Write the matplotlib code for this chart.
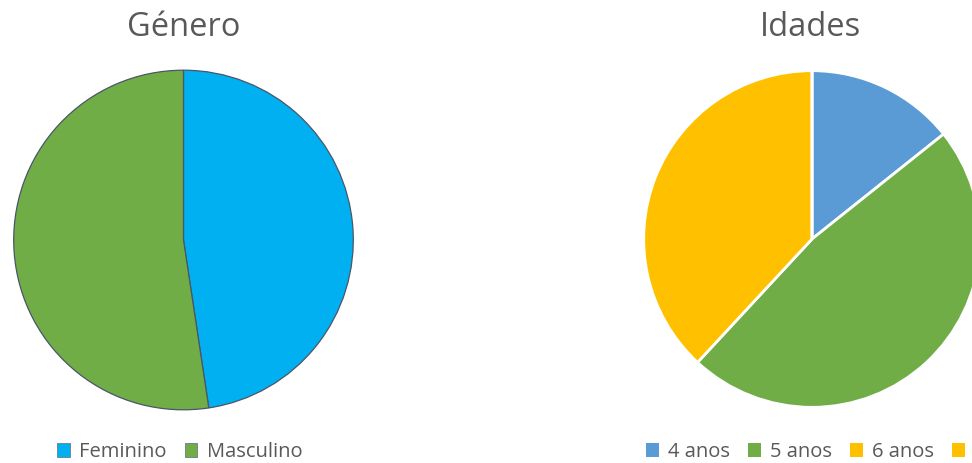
import matplotlib.pyplot as plt
from matplotlib.patches import Patch

# Data
genero_labels = ["Feminino", "Masculino"]
genero_values = [10, 11]
genero_colors = ["#00B0F0", "#70AD47"]

idade_labels = ["4 anos", "5 anos", "6 anos", "7 anos"]
idade_values = [3, 10, 8, 0]
idade_colors = ["#5B9BD5", "#70AD47", "#FFC000", "#FFC000"]

text_color = "#595959"
plt.rcParams["font.family"] = ["Open Sans", "DejaVu Sans"]

W, H = 972, 463
fig = plt.figure(figsize=(W / 100, H / 100), dpi=100)


def px_axes(cx, cy, r):
    # axes box in figure fractions from pixel centre/radius
    return fig.add_axes([(cx - r) / W, 1 - (cy + r) / H, 2 * r / W, 2 * r / H])


# Left pie: Género
ax1 = px_axes(183.5, 240, 171.5)
ax1.pie(genero_values, colors=genero_colors, startangle=90, counterclock=False,
        wedgeprops=dict(edgecolor="#4A5668", linewidth=0.9))
ax1.set_xlim(-1.01, 1.01)
ax1.set_ylim(-1.01, 1.01)
ax1.set_aspect("equal")
ax1.axis("off")

# Right pie: Idades
ax2 = px_axes(812, 239, 170)
ax2.pie(idade_values, colors=idade_colors, startangle=90, counterclock=False,
        wedgeprops=dict(edgecolor="white", linewidth=2))
ax2.set_xlim(-1.01, 1.01)
ax2.set_ylim(-1.01, 1.01)
ax2.set_aspect("equal")
ax2.axis("off")

# Titles
fig.text(183.5 / W, 1 - 28 / H, "Género", ha="center", va="center",
         fontsize=23.5, color=text_color)
fig.text(810 / W, 1 - 28 / H, "Idades", ha="center", va="center",
         fontsize=23.5, color=text_color)

# Legends
leg_kw = dict(loc="center left", frameon=False, borderpad=0, borderaxespad=0,
              handlelength=0.64, handleheight=0.64, handletextpad=0.45,
              columnspacing=0.9, fontsize=14.5, labelcolor=text_color)

h1 = [Patch(facecolor=c, edgecolor="#6E7A88", linewidth=0.6) for c in genero_colors]
fig.legend(h1, genero_labels, ncol=2, bbox_to_anchor=(57 / W, 1 - 452 / H), **leg_kw)

h2 = [Patch(facecolor=c, edgecolor="none") for c in idade_colors]
fig.legend(h2, idade_labels, ncol=4, bbox_to_anchor=(646 / W, 1 - 452 / H), **leg_kw)

fig.savefig("out.png", dpi=100)
